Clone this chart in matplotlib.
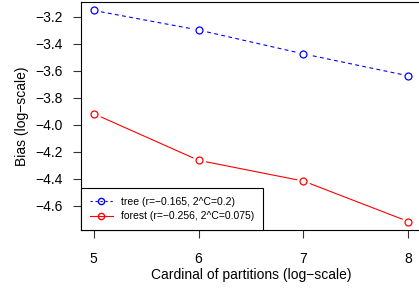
import matplotlib
matplotlib.use("Agg")
import matplotlib.pyplot as plt

# data
partitions = [5, 6, 7, 8]
tree_bias = [-3.153, -3.298, -3.475, -3.638]
forest_bias = [-3.918, -4.264, -4.418, -4.718]
tree_label = "tree (r=\u22120.165, 2^C=0.2)"
forest_label = "forest (r=\u22120.256, 2^C=0.075)"
y_ticks = [-3.2, -3.4, -3.6, -3.8, -4.0, -4.2, -4.4, -4.6]

plt.rcParams["font.family"] = ["Liberation Sans", "DejaVu Sans"]

fig = plt.figure(figsize=(4.19, 2.88), dpi=100)
ax = fig.add_axes([81 / 419, 58 / 288, 340 / 419, 228 / 288])

for xs, ys, col, ls, lab in [(partitions, tree_bias, "blue", (0, (3.5, 3)), tree_label),
                             (partitions, forest_bias, "red", "-", forest_label)]:
    ax.plot(xs, ys, color=col, linestyle=ls, linewidth=0.8, zorder=1)
    # white halo so the lines stop short of the points (R type="b")
    ax.plot(xs, ys, linestyle="none", marker="o", markersize=9.5,
            markerfacecolor="white", markeredgecolor="none", zorder=2)
    ax.plot(xs, ys, linestyle="none", marker="o", markersize=5,
            markerfacecolor="none", markeredgecolor=col, markeredgewidth=0.9, zorder=3)

# legend handles
h1, = ax.plot([], [], color="blue", linestyle=(0, (2, 2.5)), linewidth=0.8, marker="o",
              markersize=4.5, markerfacecolor="none", markeredgecolor="blue")
h2, = ax.plot([], [], color="red", linestyle="-", linewidth=0.8, marker="o",
              markersize=4.5, markerfacecolor="none", markeredgecolor="red")
leg = ax.legend([h1, h2], [tree_label, forest_label], loc="lower left",
                borderaxespad=0, fancybox=False, framealpha=1, edgecolor="black",
                fontsize=7.5, handlelength=2.2, handletextpad=0.8,
                borderpad=0.85, labelspacing=0.4)
leg.get_frame().set_linewidth(0.8)

lo, hi = min(forest_bias), max(tree_bias)
pad = (hi - lo) * 0.04
ax.set_ylim(lo - pad, hi + pad)
ax.set_xlim(4.88, 8.12)
ax.set_xticks(partitions)
ax.set_yticks(y_ticks)
ax.set_yticklabels([f"{v:.1f}".replace("-", "\u2212") for v in y_ticks])
ax.tick_params(length=6, width=0.8, labelsize=10, color="#333333")
ax.tick_params(axis="x", pad=10)
ax.tick_params(axis="y", pad=7)
for s in ax.spines.values():
    s.set_linewidth(0.8)
ax.set_xlabel("Cardinal of partitions (log\u2212scale)", fontsize=10, labelpad=1)
ax.set_ylabel("Bias (log\u2212scale)", fontsize=10, labelpad=4.5)

fig.savefig("out.png", dpi=100)
